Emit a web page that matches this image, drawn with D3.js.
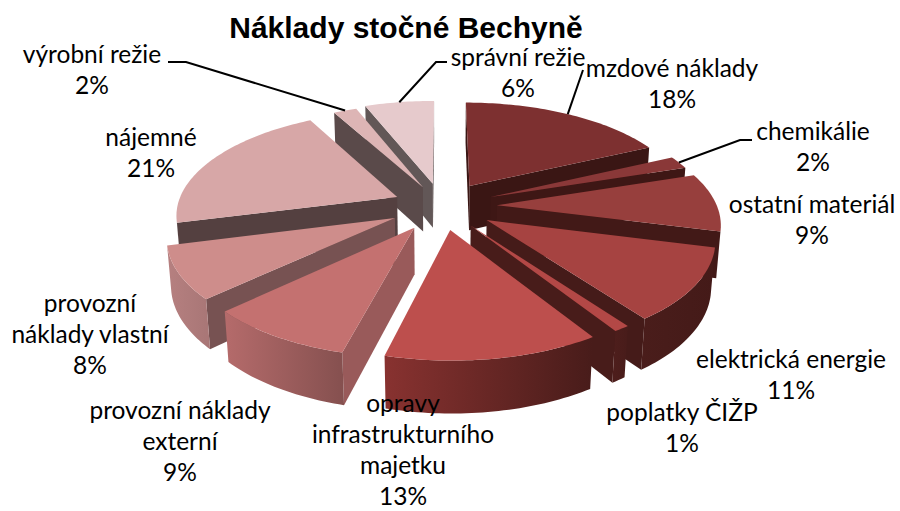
<!DOCTYPE html>
<html><head><meta charset="utf-8">
<script src="https://cdn.jsdelivr.net/npm/d3@7"></script>
<style>html,body{margin:0;background:#fff}svg{display:block}</style></head>
<body><svg id="c" width="900" height="511"></svg>
<script>
const categories=["mzdové náklady","chemikálie","ostatní materiál","elektrická energie","poplatky ČIŽP","opravy infrastrukturního majetku","provozní náklady externí","provozní náklady vlastní","nájemné","výrobní režie","správní režie"];
const values=[18,2,9,11,1,13,9,8,21,2,6];
const explodeBy=[.24,.24,.25,.24,.225,.23,.24,.24,.225,.21,.23];
const labelLines=[["mzdové náklady"],["chemikálie"],["ostatní materiál"],["elektrická energie"],["poplatky ČIŽP"],["opravy","infrastrukturního","majetku"],["provozní náklady","externí"],["provozní","náklady vlastní"],["nájemné"],["výrobní režie"],["správní režie"]];
const title="Náklady stočné Bechyně";
const topColors=["#7D3030","#8A3838","#973F3D","#A64341","#B34846","#BD4F4D","#C47170","#CE8D8B","#D7A7A7","#DDB5B5","#E6CACC"];
const wallColors=["#3A1614","#3E1715","#421917","#451B19","#481C1A","#4A1D1B","#995A5A","#775252","#544040","#5A4A4A","#625757"];
const outerLeft=["#3A1614","#3E1715","#421917","#4A1D1B","#4E1E1C","#883230","#B56B6B","#B68080","#A08080","#A09090","#A09595"];
const outerRight=["#3A1614","#3E1715","#421917","#441A18","#481C1A","#481C1A","#85504F","#A87676","#906F6F","#908080","#908585"];
const labelAnchors=[[672,69],[813,132],[812,205],[791,360],[682,413],[403,404],[180,411],[90,304],[151,138],[92,55],[518,58]];
const leaders=[[[583,70]],[[752,140],[740,140]],null,null,null,null,null,null,null,[[168,62],[186,62]],[[447,62],[436,62]]];

const cam={cx:442,cy:206,S:220,a:.155,b:.015,K:102,W:46};
const project=(u,v,w)=>{const d=1-cam.a*v+cam.b*w;return [cam.cx+cam.S*u/d,cam.cy+(cam.K*v+cam.W*w)/d];};
const svg=d3.select("#c");
const defs=svg.append("defs");
const pie=d3.pie().sort(null).value(d=>d);
const arcs=pie(values).map((a,i)=>{
  const mid=(a.startAngle+a.endAngle)/2;
  return {i,a0:a.startAngle,a1:a.endAngle,mid,ou:Math.sin(mid)*explodeBy[i],ov:-Math.cos(mid)*explodeBy[i]};
});
const line=d3.line();
const rim=(s,t)=>[s.ou+Math.sin(t),s.ov-Math.cos(t)];
const area=p=>d3.polygonArea(p);
const order=arcs.slice().sort((a,b)=>a.ov-b.ov);
order.forEach(s=>{
  const g=svg.append("g");
  const apex=[s.ou,s.ov];
  const quad=(A,B)=>[project(A[0],A[1],0),project(B[0],B[1],0),project(B[0],B[1],1),project(A[0],A[1],1)];
  const wall=(A,B,fill)=>{const q=quad(A,B);if(area(q)>0)g.append("path").attr("d",line(q)+"Z").attr("fill",fill);};
  wall(apex,rim(s,s.a0),wallColors[s.i]);
  wall(rim(s,s.a1),apex,wallColors[s.i]);
  const n=Math.max(4,Math.ceil((s.a1-s.a0)*48));
  const ts=d3.range(n+1).map(k=>s.a0+(s.a1-s.a0)*k/n);
  const front=[];
  for(let k=0;k<n;k++){const q=quad(rim(s,ts[k]),rim(s,ts[k+1]));if(area(q)>0)front.push(k);}
  if(front.length){
    const first=front[0],last=front[front.length-1];
    const tt=ts.slice(first,last+2);
    const topE=tt.map(t=>{const r=rim(s,t);return project(r[0],r[1],0);});
    const botE=tt.map(t=>{const r=rim(s,t);return project(r[0],r[1],1);});
    const all=topE.concat(botE);
    const x0=d3.min(all,p=>p[0]),x1=d3.max(all,p=>p[0]);
    const id="o"+s.i;
    const gr=defs.append("linearGradient").attr("id",id).attr("gradientUnits","userSpaceOnUse")
      .attr("x1",x0).attr("x2",x1).attr("y1",0).attr("y2",0);
    gr.append("stop").attr("offset",0).attr("stop-color",outerLeft[s.i]);
    gr.append("stop").attr("offset",1).attr("stop-color",outerRight[s.i]);
    g.append("path").attr("d",line(topE.concat(botE.reverse()))+"Z").attr("fill",`url(#${id})`);
  }
  const n2=Math.max(6,Math.ceil((s.a1-s.a0)*48));
  const pts=[project(apex[0],apex[1],0)].concat(d3.range(n2+1).map(k=>{const r=rim(s,s.a0+(s.a1-s.a0)*k/n2);return project(r[0],r[1],0);}));
  g.append("path").attr("d",line(pts)+"Z").attr("fill",topColors[s.i]);
});
arcs.forEach(s=>{
  if(!leaders[s.i])return;
  const r=rim(s,s.mid);
  const end=project(r[0],r[1],0);
  svg.append("path").attr("d",line(leaders[s.i].concat([end]))).attr("fill","none").attr("stroke","#000").attr("stroke-width",2);
});
const fs=24.5,lh=31;
categories.forEach((c,i)=>{
  const lines=labelLines[i].concat([values[i]+"%"]);
  const t=svg.append("text").attr("font-family","Lato, 'Open Sans', sans-serif").attr("font-size",fs).attr("fill","#000").attr("text-anchor","middle");
  lines.forEach((l,k)=>t.append("tspan").attr("x",labelAnchors[i][0]).attr("y",labelAnchors[i][1]+8+k*lh).text(l));
});
svg.append("text").attr("x",406).attr("y",38).attr("text-anchor","middle").attr("font-family","'Liberation Sans',Arial,sans-serif").attr("font-weight","bold").attr("font-size",30).text(title);
</script></body></html>
